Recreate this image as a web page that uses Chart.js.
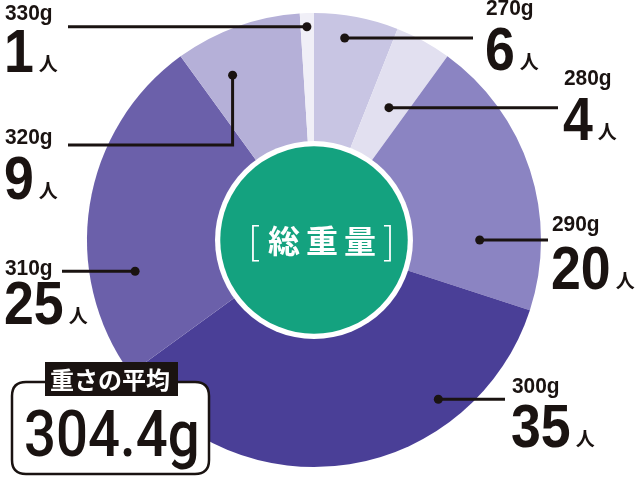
<!DOCTYPE html>
<html>
<head>
<meta charset="utf-8">
<script src="https://cdn.jsdelivr.net/npm/chart.js@4/dist/chart.umd.min.js"></script>
<style>
  html, body { margin: 0; padding: 0; background: #fff; }
  canvas { display: block; }
</style>
</head>
<body>
<canvas id="chart" width="640" height="480"></canvas>
<script>
// data (clockwise from 12 o'clock)
const weights = ['270g', '280g', '290g', '300g', '310g', '320g', '330g'];
const counts = [6, 4, 20, 35, 25, 9, 1];
const unit = '人';
const centerTitle = '総重量';
const averageLabel = '重さの平均';
const averageValue = '304.4g';

const sliceColors = ['#c8c5e3', '#e2e0f0', '#8b84c2', '#4a3f97', '#6b60aa', '#b5b0d8', '#f0eff7'];

// where each leader line starts inside its slice (fraction of angle, fraction of radius)
// and where its text sits
const callouts = [
  { f: 0.40, k: 0.90, lineX: 473, tx: 485, ly: 15, ny: 70 },
  { f: 0.55, k: 0.67, lineX: 558, tx: 563, ly: 85, ny: 140 },
  { f: 0.75, k: 0.73, lineX: 548, tx: 551, ly: 231, ny: 289 },
  { f: 0.27, k: 0.89, lineX: 505, tx: 511, ly: 393, ny: 447 },
  { f: 0.29, k: 0.80, lineX: 62, tx: 4, ly: 275, ny: 324 },
  { f: 0.30, k: 0.81, lineX: 68, tx: 4, ly: 144, ny: 199, elbowY: 145 },
  { f: 0.47, k: 0.94, lineX: 68, tx: 4, ly: 20, ny: 72 }
];

const latin = '"Liberation Sans", Arial, sans-serif';
const cjk = '"Noto Sans CJK JP", sans-serif';

function drawText(c, txt, x, y, font, sx, color) {
  c.save();
  c.font = font;
  c.fillStyle = color || '#1a1311';
  c.textAlign = 'left';
  c.textBaseline = 'alphabetic';
  c.translate(x, y);
  c.scale(sx, 1);
  c.fillText(txt, 0, 0);
  const w = c.measureText(txt).width * sx;
  c.restore();
  return w;
}

function roundRect(c, x, y, w, h, r) {
  c.beginPath();
  c.moveTo(x + r, y);
  c.lineTo(x + w - r, y);
  c.quadraticCurveTo(x + w, y, x + w, y + r);
  c.lineTo(x + w, y + h - r);
  c.quadraticCurveTo(x + w, y + h, x + w - r, y + h);
  c.lineTo(x + r, y + h);
  c.quadraticCurveTo(x, y + h, x, y + h - r);
  c.lineTo(x, y + r);
  c.quadraticCurveTo(x, y, x + r, y);
  c.closePath();
}

const overlay = {
  id: 'overlay',
  afterDatasetsDraw(chart) {
    const c = chart.ctx;
    const arcs = chart.getDatasetMeta(0).data;
    const cx = arcs[0].x, cy = arcs[0].y, R = arcs[0].outerRadius;

    // centre disc
    c.save();
    c.fillStyle = '#fff';
    c.beginPath(); c.arc(cx, cy, R * 0.436, 0, Math.PI * 2); c.fill();
    c.fillStyle = '#14a27f';
    c.beginPath(); c.arc(cx, cy, R * 0.413, 0, Math.PI * 2); c.fill();
    c.restore();
    drawText(c, '[', cx - 66, cy + 15, '300 38px ' + cjk, 1, '#fff');
    drawText(c, ']', cx + 69, cy + 15, '300 38px ' + cjk, 1, '#fff');
    [...centerTitle].forEach((ch, i) => {
      drawText(c, ch, cx - 46 + i * 38, cy + 13, 'bold 32px ' + cjk, 1, '#fff');
    });

    // leader lines and labels
    arcs.forEach((arc, i) => {
      const L = callouts[i];
      const a = arc.startAngle + L.f * (arc.endAngle - arc.startAngle);
      const px = cx + Math.cos(a) * R * L.k;
      const py = cy + Math.sin(a) * R * L.k;
      c.save();
      c.strokeStyle = '#1a1311';
      c.fillStyle = '#1a1311';
      c.lineWidth = 3;
      c.beginPath();
      c.moveTo(px, py);
      if (L.elbowY !== undefined) {
        c.lineTo(px, L.elbowY);
        c.lineTo(L.lineX, L.elbowY);
      } else {
        c.lineTo(L.lineX, py);
      }
      c.stroke();
      c.beginPath(); c.arc(px, py, 4.5, 0, Math.PI * 2); c.fill();
      c.restore();

      drawText(c, weights[i], L.tx + 1, L.ly, 'bold 22px ' + latin, 0.95);
      const w = drawText(c, String(counts[i]), L.tx, L.ny, 'bold 61px ' + latin, 0.88);
      drawText(c, unit, L.tx + w + 5, L.ny - 1, 'bold 19px ' + cjk, 1);
    });

    // average box
    c.save();
    c.fillStyle = '#fff';
    c.strokeStyle = '#1a1311';
    c.lineWidth = 2.5;
    roundRect(c, 12, 382, 197, 92, 14);
    c.fill();
    c.stroke();
    c.fillStyle = '#1a1311';
    c.fillRect(45, 362, 133, 34);
    c.restore();
    drawText(c, averageLabel, 50, 389, 'bold 24px ' + cjk, 1, '#fff');
    drawText(c, averageValue, 24, 456, '500 64px Roboto, ' + latin, 0.88);
  }
};

new Chart(document.getElementById('chart'), {
  type: 'pie',
  data: {
    labels: weights,
    datasets: [{
      data: counts,
      backgroundColor: sliceColors,
      borderWidth: 0
    }]
  },
  options: {
    responsive: false,
    animation: false,
    events: [],
    layout: { padding: { left: 87, right: 99, top: 13, bottom: 13 } },
    plugins: {
      legend: { display: false },
      tooltip: { enabled: false }
    }
  },
  plugins: [overlay]
});
</script>
</body>
</html>
